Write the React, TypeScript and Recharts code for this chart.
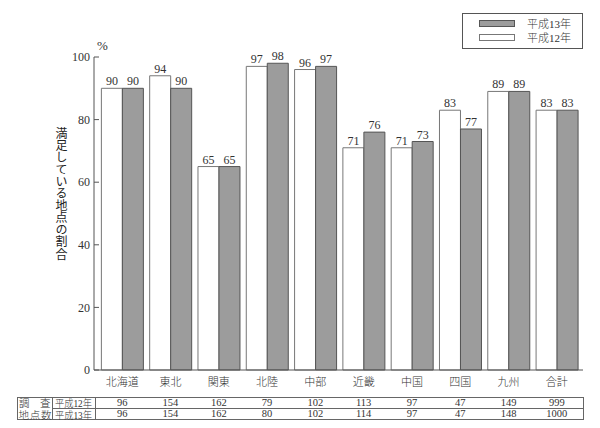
import React from 'react';
import { BarChart, Bar, XAxis, YAxis, LabelList } from 'recharts';

const categories = ['北海道', '東北', '関東', '北陸', '中部', '近畿', '中国', '四国', '九州', '合計'];
const h12Values = [90, 94, 65, 97, 96, 71, 71, 83, 89, 83];
const h13Values = [90, 90, 65, 98, 97, 76, 73, 77, 89, 83];
const count12 = [96, 154, 162, 79, 102, 113, 97, 47, 149, 999];
const count13 = [96, 154, 162, 80, 102, 114, 97, 47, 148, 1000];
const yTicks = [0, 20, 40, 60, 80, 100];
const seriesNames = ['平成12年', '平成13年'];
const yTitle = '満足している地点の割合';
const tableHead = ['調', '査', '地点数'];

const data = categories.map((name, i) => ({ name, h12: h12Values[i], h13: h13Values[i], i }));

const FONT = "'Liberation Serif', 'DejaVu Serif', 'Noto Sans CJK JP', serif";
const TEXT = '#333';
const GREY = '#9c9c9c';
const LINE = '#666';
const XPAD = { left: 4, right: 2 };

const makeRowTick = (values: number[]) => (props: any) => {
  const { x, y, payload } = props;
  const v = values[payload.index];
  return (
    <text x={x} y={y} dy="0.71em" textAnchor="middle" fontSize={10.5} fill={TEXT} fontFamily={FONT}>
      {v}
    </text>
  );
};

const TableFrame = () => (
  <svg width={600} height={428} style={{ position: 'absolute', left: 0, top: 0, pointerEvents: 'none' }}>
    <rect x={17.5} y={397.5} width={566} height={22} fill="none" stroke={LINE} strokeWidth={1} />
    <line x1={52.5} y1={408.5} x2={583.5} y2={408.5} stroke={LINE} strokeWidth={1} />
    <line x1={52.5} y1={397.5} x2={52.5} y2={419.5} stroke={LINE} strokeWidth={1} />
    <line x1={95.5} y1={397.5} x2={95.5} y2={419.5} stroke={LINE} strokeWidth={1} />
    <g fill={TEXT} fontSize={10.5} fontFamily={FONT} fontWeight={300}>
      <text x={19} y={407}>{tableHead[0]}</text>
      <text x={40} y={407}>{tableHead[1]}</text>
      <text x={18.5} y={418.5} textLength={33} lengthAdjust="spacing">{tableHead[2]}</text>
      <text x={55} y={407} textLength={37} lengthAdjust="spacingAndGlyphs">{seriesNames[0]}</text>
      <text x={55} y={418.5} textLength={37} lengthAdjust="spacingAndGlyphs">{seriesNames[1]}</text>
    </g>
  </svg>
);

const YTitle = () => (
  <text
    x={60}
    y={127}
    fontSize={12}
    fill="#222"
    fontFamily={FONT}
    style={{ writingMode: 'vertical-rl', letterSpacing: '0.1px' } as any}
  >
    {yTitle}
  </text>
);

export default function App() {
  return (
    <div style={{ position: 'absolute', left: 0, top: 0, width: 600, height: 428, background: '#fff', fontFamily: FONT }}>
      <BarChart
        width={600}
        height={428}
        data={data}
        margin={{ top: 57, right: 17, bottom: 8, left: 0 }}
        barCategoryGap="7%"
        barGap={0}
      >
        <XAxis
          xAxisId="main"
          dataKey="name"
          padding={XPAD}
          axisLine={{ stroke: '#555' }}
          tickLine={false}
          tickSize={0}
          tickMargin={8}
          height={27}
          interval={0}
          tick={{ fontSize: 11, fill: TEXT, fontFamily: FONT, fontWeight: 300 }}
        />
        <XAxis
          xAxisId="r12"
          dataKey="name"
          padding={XPAD}
          axisLine={false}
          tickLine={false}
          tickSize={0}
          tickMargin={2}
          height={11.5}
          interval={0}
          tick={makeRowTick(count12)}
        />
        <XAxis
          xAxisId="r13"
          dataKey="name"
          padding={XPAD}
          axisLine={false}
          tickLine={false}
          tickSize={0}
          tickMargin={1.5}
          height={11.5}
          interval={0}
          tick={makeRowTick(count13)}
        />
        <XAxis xAxisId="top" dataKey="name" orientation="top" height={0} tick={false} tickLine={false} axisLine={{ stroke: '#555' }} />
        <YAxis
          yAxisId="left"
          domain={[0, 100]}
          ticks={yTicks}
          width={94}
          tickSize={-5}
          tickMargin={9}
          axisLine={{ stroke: '#555' }}
          tickLine={{ stroke: '#555' }}
          tick={{ fontSize: 12, fill: TEXT, fontFamily: FONT }}
          label={{ content: YTitle }}
        />
        <YAxis
          yAxisId="right"
          orientation="right"
          domain={[0, 100]}
          ticks={yTicks}
          width={0}
          tickSize={-5}
          axisLine={{ stroke: '#555' }}
          tickLine={{ stroke: '#555' }}
          tickFormatter={() => ''}
        />
        <Bar xAxisId="main" yAxisId="left" dataKey="h12" name={seriesNames[0]} fill="#fff" stroke="#777" strokeWidth={1} isAnimationActive={false}>
          <LabelList dataKey="h12" position="top" offset={3} fontSize={12} fill={TEXT} fontFamily={FONT} />
        </Bar>
        <Bar xAxisId="main" yAxisId="left" dataKey="h13" name={seriesNames[1]} fill={GREY} stroke="#555" strokeWidth={1} isAnimationActive={false}>
          <LabelList dataKey="h13" position="top" offset={3} fontSize={12} fill={TEXT} fontFamily={FONT} />
        </Bar>
      </BarChart>
      <TableFrame />
      <div style={{ position: 'absolute', left: 97, top: 38, fontSize: 13, color: TEXT }}>%</div>
      <div
        style={{
          position: 'absolute',
          left: 462,
          top: 13,
          width: 119,
          height: 34,
          border: '1px solid #555',
          fontSize: 11,
          fontWeight: 300,
          color: TEXT,
        }}
      >
        {[seriesNames[1], seriesNames[0]].map((n, k) => (
          <div key={n} style={{ position: 'absolute', left: 16, top: 3 + k * 14, height: 12, display: 'flex', alignItems: 'center' }}>
            <span
              style={{
                display: 'inline-block',
                width: 34,
                height: 5,
                background: k === 0 ? GREY : '#fff',
                border: `1px solid ${k === 0 ? '#555' : '#777'}`,
                marginRight: 12,
              }}
            />
            <span>{n}</span>
          </div>
        ))}
      </div>
    </div>
  );
}
